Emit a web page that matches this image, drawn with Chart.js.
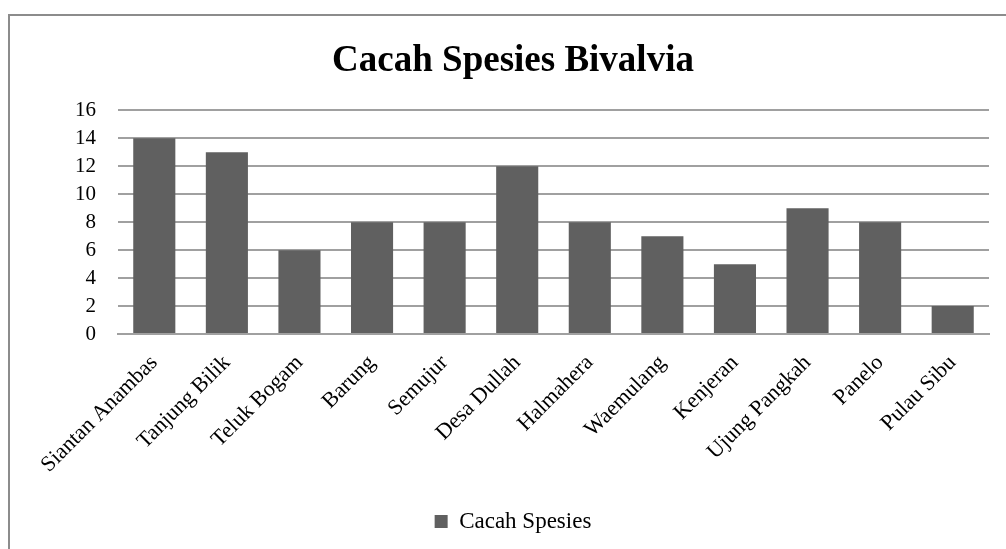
<!DOCTYPE html>
<html>
<head>
<meta charset="utf-8">
<script src="https://cdn.jsdelivr.net/npm/chart.js@4"></script>
<style>
html,body{margin:0;padding:0;background:#fff;overflow:hidden;}
#wrap{position:absolute;left:0;top:0;width:1006px;height:549px;}
#frame{position:absolute;left:8px;top:14px;width:1010px;height:560px;border:2px solid #8c8c8c;pointer-events:none;}
</style>
</head>
<body>
<div id="wrap"><canvas id="c" width="1006" height="549"></canvas></div>
<div id="frame"></div>
<script>
const categories = ["Siantan Anambas","Tanjung Bilik","Teluk Bogam","Barung","Semujur","Desa Dullah","Halmahera","Waemulang","Kenjeran","Ujung Pangkah","Panelo","Pulau Sibu"];
const seriesName = "Cacah Spesies";
const values = [14,13,6,8,8,12,8,7,5,9,8,2];
const titleText = "Cacah Spesies Bivalvia";

const serif = "'Liberation Serif','Times New Roman',serif";
new Chart(document.getElementById('c'), {
  type: 'bar',
  data: {
    labels: categories,
    datasets: [{
      label: seriesName,
      data: values,
      backgroundColor: '#606060',
      borderWidth: 0,
      barPercentage: 0.58,
      categoryPercentage: 1.0
    }]
  },
  options: {
    responsive: false,
    animation: false,
    devicePixelRatio: 1,
    layout: { padding: { left: 37, right: 17, top: 0, bottom: 6 } },
    plugins: {
      title: {
        display: true,
        text: titleText,
        color: '#000',
        font: { family: serif, size: 37, weight: 'bold', lineHeight: 1.2 },
        padding: { top: 39, bottom: 27 }
      },
      legend: {
        display: true,
        position: 'bottom',
        labels: {
          color: '#000',
          font: { family: serif, size: 23 },
          boxWidth: 13,
          boxHeight: 13,
          padding: 4
        }
      },
      tooltip: { enabled: false }
    },
    scales: {
      x: {
        grid: { display: false, drawTicks: false },
        border: { display: true, color: '#a0a0a0', width: 2 },
        ticks: {
          color: '#000',
          font: { family: serif, size: 22 },
          maxRotation: 45,
          minRotation: 45,
          autoSkip: false,
          padding: 16
        },
        afterFit: (s) => { s.height = 172; }
      },
      y: {
        min: 0,
        max: 16,
        grid: { color: '#a0a0a0', lineWidth: 2, drawTicks: false },
        border: { display: false },
        ticks: {
          stepSize: 2,
          autoSkip: false,
          color: '#000',
          font: { family: serif, size: 21 },
          padding: 22
        },
        afterFit: (s) => { s.width = 81; }
      }
    }
  }
});
</script>
</body>
</html>
